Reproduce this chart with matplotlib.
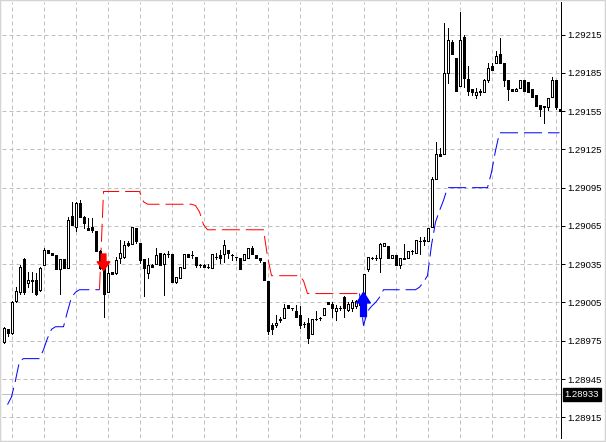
import numpy as np
import matplotlib
matplotlib.use("Agg")
import matplotlib.pyplot as plt
from matplotlib.patches import Rectangle
from matplotlib.transforms import blended_transform_factory

# ---------------- data ----------------
opens = [1.28974, 1.28984, 1.28981, 1.29006, 1.29013, 1.29039, 1.29020, 1.29023, 1.29023, 1.29015,
         1.29034, 1.29046, 1.29044, 1.29042, 1.29031, 1.29039, 1.29032, 1.29073, 1.29064, 1.29083,
         1.29072, 1.29063, 1.29064, 1.29061, 1.29045, 1.29032, 1.29013, 1.29029, 1.29028, 1.29040,
         1.29041, 1.29052, 1.29051, 1.29063, 1.29052, 1.29039, 1.29028, 1.29034, 1.29035, 1.29044,
         1.29035, 1.29043, 1.29043, 1.29021, 1.29024, 1.29032, 1.29043, 1.29042, 1.29041, 1.29034,
         1.29034, 1.29033, 1.29032, 1.29041, 1.29042, 1.29043, 1.29046, 1.29042, 1.29041, 1.29040,
         1.29038, 1.29040, 1.29048, 1.29042, 1.29040, 1.29037, 1.29022, 1.28987, 1.28987, 1.28991,
         1.28993, 1.29003, 1.29001, 1.28998, 1.28995, 1.28988, 1.28989, 1.28980, 1.28992, 1.28993,
         1.28995, 1.29005, 1.29004, 1.28998, 1.29001, 1.29009, 1.28999, 1.29001, 1.29002, 1.29003,
         1.29008, 1.29031, 1.29040, 1.29040, 1.29040, 1.29049, 1.29049, 1.29040, 1.29042, 1.29034,
         1.29039, 1.29040, 1.29045, 1.29044, 1.29053, 1.29053, 1.29053, 1.29064, 1.29102, 1.29121,
         1.29121, 1.29185, 1.29209, 1.29197, 1.29175, 1.29213, 1.29180, 1.29172, 1.29168, 1.29170,
         1.29170, 1.29179, 1.29190, 1.29193, 1.29200, 1.29193, 1.29179, 1.29172, 1.29171, 1.29173,
         1.29179, 1.29178, 1.29172, 1.29168, 1.29160, 1.29159, 1.29158, 1.29166, 1.29179, 1.29157]
highs = [1.28986, 1.28984, 1.29006, 1.29017, 1.29034, 1.29040, 1.29029, 1.29029, 1.29028, 1.29033,
         1.29048, 1.29046, 1.29044, 1.29042, 1.29039, 1.29039, 1.29072, 1.29084, 1.29084, 1.29085,
         1.29073, 1.29071, 1.29071, 1.29061, 1.29046, 1.29036, 1.29034, 1.29029, 1.29041, 1.29054,
         1.29053, 1.29053, 1.29064, 1.29063, 1.29052, 1.29039, 1.29040, 1.29035, 1.29048, 1.29044,
         1.29044, 1.29045, 1.29043, 1.29025, 1.29033, 1.29043, 1.29043, 1.29045, 1.29041, 1.29035,
         1.29035, 1.29035, 1.29043, 1.29044, 1.29046, 1.29054, 1.29046, 1.29043, 1.29041, 1.29040,
         1.29043, 1.29048, 1.29049, 1.29042, 1.29040, 1.29037, 1.29022, 1.28989, 1.28995, 1.28994,
         1.29004, 1.29003, 1.29001, 1.29003, 1.29002, 1.28990, 1.28993, 1.28992, 1.28998, 1.28994,
         1.29001, 1.29005, 1.29005, 1.29003, 1.29002, 1.29010, 1.29005, 1.29007, 1.29007, 1.29009,
         1.29027, 1.29041, 1.29041, 1.29042, 1.29052, 1.29052, 1.29049, 1.29042, 1.29042, 1.29040,
         1.29051, 1.29045, 1.29046, 1.29054, 1.29056, 1.29056, 1.29063, 1.29103, 1.29131, 1.29126,
         1.29224, 1.29220, 1.29211, 1.29197, 1.29233, 1.29215, 1.29190, 1.29172, 1.29173, 1.29172,
         1.29180, 1.29193, 1.29193, 1.29202, 1.29212, 1.29193, 1.29179, 1.29172, 1.29173, 1.29179,
         1.29179, 1.29178, 1.29172, 1.29168, 1.29160, 1.29159, 1.29165, 1.29182, 1.29179, 1.29157]
lows = [1.28973, 1.28979, 1.28980, 1.29005, 1.29012, 1.29012, 1.29017, 1.29013, 1.29011, 1.29014,
        1.29034, 1.29044, 1.29042, 1.29031, 1.29012, 1.29032, 1.29032, 1.29066, 1.29061, 1.29072,
        1.29063, 1.29062, 1.29060, 1.29045, 1.29031, 1.28994, 1.29013, 1.29027, 1.29027, 1.29036,
        1.29040, 1.29049, 1.29051, 1.29052, 1.29036, 1.29010, 1.29024, 1.29033, 1.29035, 1.29034,
        1.29011, 1.29041, 1.29021, 1.29020, 1.29024, 1.29032, 1.29041, 1.29040, 1.29033, 1.29033,
        1.29033, 1.29032, 1.29032, 1.29039, 1.29036, 1.29037, 1.29040, 1.29038, 1.29038, 1.29031,
        1.29038, 1.29040, 1.29043, 1.29040, 1.29037, 1.29023, 1.28980, 1.28980, 1.28986, 1.28990,
        1.28993, 1.29001, 1.28999, 1.28994, 1.28985, 1.28986, 1.28973, 1.28980, 1.28991, 1.28991,
        1.28995, 1.29004, 1.28994, 1.28991, 1.28999, 1.28994, 1.28998, 1.28998, 1.29001, 1.29001,
        1.29003, 1.29030, 1.29039, 1.29038, 1.29029, 1.29049, 1.29040, 1.29040, 1.29034, 1.29032,
        1.29039, 1.29040, 1.29043, 1.29044, 1.29043, 1.29050, 1.29053, 1.29064, 1.29102, 1.29120,
        1.29121, 1.29177, 1.29200, 1.29171, 1.29175, 1.29174, 1.29168, 1.29168, 1.29165, 1.29168,
        1.29170, 1.29178, 1.29187, 1.29193, 1.29193, 1.29175, 1.29164, 1.29171, 1.29171, 1.29173,
        1.29171, 1.29170, 1.29166, 1.29159, 1.29151, 1.29146, 1.29156, 1.29166, 1.29157, 1.29155]
closes = [1.28985, 1.28981, 1.29005, 1.29014, 1.29033, 1.29013, 1.29023, 1.29022, 1.29012, 1.29032,
          1.29046, 1.29044, 1.29042, 1.29031, 1.29039, 1.29032, 1.29070, 1.29066, 1.29083, 1.29072,
          1.29067, 1.29062, 1.29062, 1.29045, 1.29032, 1.29012, 1.29028, 1.29027, 1.29038, 1.29044,
          1.29050, 1.29050, 1.29064, 1.29053, 1.29038, 1.29032, 1.29034, 1.29033, 1.29042, 1.29034,
          1.29043, 1.29043, 1.29021, 1.29025, 1.29033, 1.29043, 1.29041, 1.29042, 1.29034, 1.29034,
          1.29033, 1.29033, 1.29043, 1.29041, 1.29040, 1.29050, 1.29044, 1.29042, 1.29041, 1.29031,
          1.29043, 1.29048, 1.29043, 1.29040, 1.29038, 1.29023, 1.28983, 1.28984, 1.28989, 1.28992,
          1.29001, 1.29001, 1.29001, 1.28994, 1.28987, 1.28988, 1.28977, 1.28992, 1.28992, 1.28993,
          1.29001, 1.29004, 1.29001, 1.29001, 1.29001, 1.29001, 1.29004, 1.29005, 1.29006, 1.29007,
          1.29027, 1.29041, 1.29040, 1.29040, 1.29051, 1.29052, 1.29040, 1.29042, 1.29034, 1.29040,
          1.29040, 1.29045, 1.29045, 1.29054, 1.29053, 1.29054, 1.29063, 1.29102, 1.29121, 1.29120,
          1.29185, 1.29211, 1.29200, 1.29171, 1.29211, 1.29181, 1.29171, 1.29170, 1.29170, 1.29171,
          1.29179, 1.29189, 1.29187, 1.29198, 1.29193, 1.29179, 1.29172, 1.29171, 1.29172, 1.29179,
          1.29171, 1.29170, 1.29166, 1.29159, 1.29157, 1.29158, 1.29165, 1.29179, 1.29158, 1.29155]

nan = float("nan")
# trailing stop, up-trend (blue) and down-trend (red) buffers
stop_up = ([nan, 1.28925, 1.28931, 1.28944, 1.28959] + [1.28961] * 5 +
           [1.28968, 1.28977, 1.28984, 1.28986, 1.28986, 1.28986, 1.28998, 1.29009, 1.29013] +
           [1.29015] * 6 + [nan] * 64 +
           [1.29012, 1.28987, 1.28998, 1.29002, 1.29005, 1.29009] + [1.29015] * 9 +
           [1.29017, 1.29021, 1.29026, 1.29050, 1.29068, 1.29077, 1.29085] + [1.29095] * 11 +
           [1.29107, 1.29124] + [1.29138] * 16)
stop_dn = ([nan] * 24 + [1.29015] + [1.29092] * 10 + [1.29084] + [1.29082] * 12 +
           [1.29081, 1.29076, 1.29066] + [1.29062] * 15 + [1.29041] + [1.29026] * 8 +
           [1.29022] + [1.29012] * 14 + [nan] * 50)

sell_bar, sell_tip, sell_tail = 25, 1.29030, 1.29043
buy_bar, buy_tip, buy_tail = 90, 1.29013, 1.28994

ytick_values = [1.28915, 1.28945, 1.28975, 1.29005, 1.29035, 1.29065,
                1.29095, 1.29125, 1.29155, 1.29185, 1.29215]
bid_price = 1.28933
y_min, y_max = 1.288988, 1.292405

# ---------------- figure ----------------
W, H = 606, 442
fig = plt.figure(figsize=(W / 100, H / 100), dpi=100)
fig.patch.set_facecolor("white")
ax = fig.add_axes([2 / W, 4 / H, 559 / W, 436 / H])
ax.set_facecolor("white")

n = len(opens)
x = np.arange(n)
o = np.array(opens); h = np.array(highs); l = np.array(lows); c = np.array(closes)
PX = 0.72  # one pixel in points

ax.set_xlim(-0.375, n - 0.625)
ax.set_ylim(y_min, y_max)

# grid
grid_x = np.arange(2.1, n, 8)
ax.set_xticks(grid_x)
ax.set_yticks(ytick_values)
ax.set_yticklabels([f"{v:.5f}" for v in ytick_values])
ax.grid(True, color="#c0c0c0", linestyle=(0, (4, 3)), linewidth=PX)
ax.set_axisbelow(True)

# bid line
ax.axhline(bid_price, color="#c0c0c0", lw=PX, zorder=1)

# trailing stop lines
ax.plot(x, stop_up, color="#0000ff", lw=PX, linestyle=(0, (18, 6)), zorder=2)
ax.plot(x, stop_dn, color="#ff0000", lw=PX, linestyle=(0, (18, 6)), zorder=2)

# candles
ax.vlines(x, l, h, color="black", lw=PX, zorder=3, antialiased=False)
bull = c > o
face = np.where(bull, "white", "black")
bottom = np.minimum(o, c)
height = np.abs(c - o)
ax.bar(x, height, bottom=bottom, width=0.5, color=face, edgecolor="black",
       linewidth=PX, zorder=4, antialiased=False)

# signal arrows
ax.annotate("", xy=(sell_bar, sell_tip), xytext=(sell_bar, sell_tail),
            arrowprops=dict(arrowstyle="simple,head_length=0.45,head_width=0.65,tail_width=0.25",
                            color="#ff0000", shrinkA=0, shrinkB=0, mutation_scale=14), zorder=6)
ax.annotate("", xy=(buy_bar, buy_tip), xytext=(buy_bar, buy_tail),
            arrowprops=dict(arrowstyle="simple,head_length=0.55,head_width=0.7,tail_width=0.3",
                            color="#0000ff", shrinkA=0, shrinkB=0, mutation_scale=14), zorder=6)

# axes styling
for s in ("left", "top", "bottom"):
    ax.spines[s].set_visible(False)
ax.spines["right"].set_color("black")
ax.spines["right"].set_linewidth(PX)
ax.yaxis.tick_right()
ax.tick_params(axis="y", direction="out", length=4 * PX, width=PX, pad=2,
               labelsize=6.8, colors="black")
ax.tick_params(axis="x", bottom=False, labelbottom=False, length=0)
for t in ax.get_yticklabels():
    t.set_fontfamily(["Liberation Sans", "DejaVu Sans"])

# bid price label
trans = blended_transform_factory(ax.transAxes, ax.transData)
ax.annotate(f"{bid_price:.5f}", xy=(1, bid_price), xycoords=trans,
            xytext=(3.5 * PX, 0), textcoords="offset points", ha="left", va="center",
            fontsize=6.8, family=["Liberation Sans", "DejaVu Sans"], color="white",
            bbox=dict(boxstyle="square,pad=0.2", facecolor="black", edgecolor="black"),
            annotation_clip=False)

# window frame
fig.patches.append(Rectangle((0, 0), 1, 1, transform=fig.transFigure, fill=False,
                             edgecolor="#d4d4d4", linewidth=2.5 * PX))

fig.savefig("out.png", dpi=100)
